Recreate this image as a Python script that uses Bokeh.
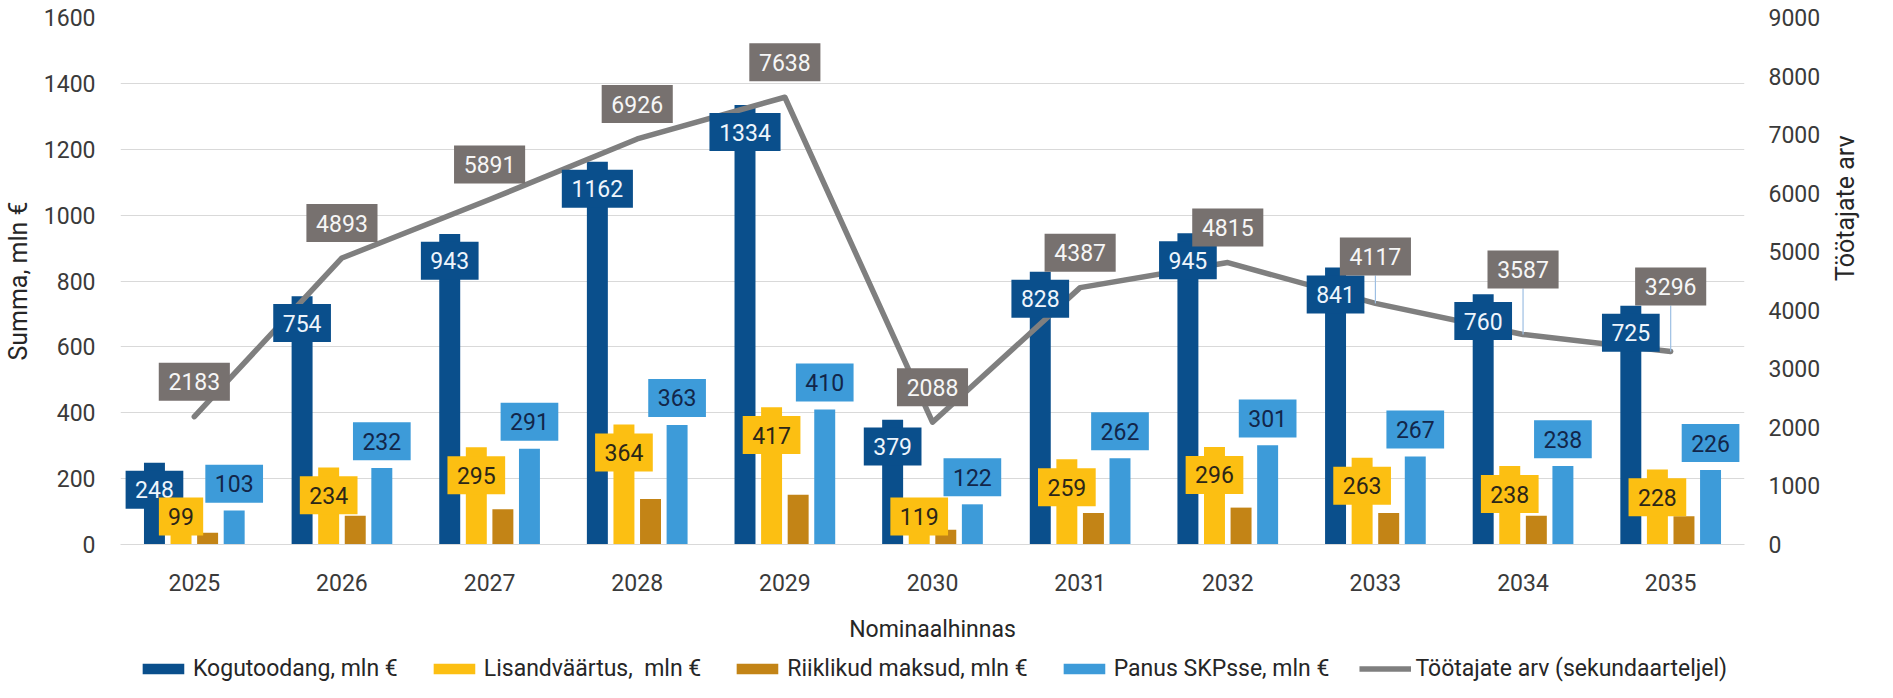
import math
from bokeh.plotting import figure
from bokeh.layouts import column
from bokeh.models import (Range1d, LinearAxis, FixedTicker, ColumnDataSource,
                          Legend, LegendItem, FactorRange)
from bokeh.transform import dodge
from bokeh.core.properties import value
from bokeh.embed import file_html
from bokeh.resources import INLINE

# ---------------- data ----------------
years = ["2025", "2026", "2027", "2028", "2029", "2030",
         "2031", "2032", "2033", "2034", "2035"]
kogutoodang = [248, 754, 943, 1162, 1334, 379, 828, 945, 841, 760, 725]
lisandvaartus = [99, 234, 295, 364, 417, 119, 259, 296, 263, 238, 228]
riiklikud_maksud = [36, 87, 107, 138, 151, 45, 96, 112, 96, 87, 86]
panus_skp = [103, 232, 291, 363, 410, 122, 262, 301, 267, 238, 226]
tootajad = [2183, 4893, 5891, 6926, 7638, 2088, 4387, 4815, 4117, 3587, 3296]
left_ticks = [0, 200, 400, 600, 800, 1000, 1200, 1400, 1600]
right_ticks = [0, 1000, 2000, 3000, 4000, 5000, 6000, 7000, 8000, 9000]
series_names = ["Kogutoodang, mln €", "Lisandväärtus,  mln €",
                "Riiklikud maksud, mln €", "Panus SKPsse, mln €",
                "Töötajate arv (sekundaarteljel)"]

# ---------------- styles ----------------
FONT = "Roboto"
C_DARK = "#0a4f8c"
C_GOLD = "#fcbf12"
C_BROWN = "#c38416"
C_LIGHT = "#3d9bd9"
C_LINE = "#7f7f7f"
C_GRAYBOX = "#77716f"
C_TEXT = "#3a3a3a"
C_GRID = "#d9d9d9"
BAR_COLORS = [C_DARK, C_GOLD, C_BROWN, C_LIGHT]
BAR_COLS = ["kog", "lis", "rii", "pan"]

W = 1877
H_MAIN, H_LEG = 645, 37
ML, MR, MT = 120, 129, 17
FRAME_BOTTOM = 545
MB = H_MAIN - FRAME_BOTTOM
FH = FRAME_BOTTOM - MT
LEFT_MAX = left_ticks[-1]
RIGHT_MAX = right_ticks[-1]
u_left = LEFT_MAX / FH      # data units per pixel, left axis
u_right = RIGHT_MAX / FH    # data units per pixel, right axis

BAR_OFFS = [-0.27, -0.09, 0.09, 0.27]
BAR_W = 0.142
BOX_H = 38
# lift (px) of the line's data labels above their points
gray_lift_px = [35, 35, 35, 35, 35, 35, 35, 35, 47, 65, 65]


def box_w(v):
    return 17.5 + 13.4 * len(str(v))


src = ColumnDataSource(dict(
    year=years,
    kog=kogutoodang, lis=lisandvaartus, rii=riiklikud_maksud, pan=panus_skp,
    toot=tootajad,
    kog_t=[str(v) for v in kogutoodang],
    lis_t=[str(v) for v in lisandvaartus],
    pan_t=[str(v) for v in panus_skp],
    toot_t=[str(v) for v in tootajad],
    kog_w=[box_w(v) for v in kogutoodang],
    lis_w=[box_w(v) for v in lisandvaartus],
    pan_w=[box_w(v) for v in panus_skp],
    toot_w=[box_w(v) for v in tootajad],
    kog_ly=[v - 27 * u_left for v in kogutoodang],
    lis_ly=[max(v - 28 * u_left, 28 * u_left) for v in lisandvaartus],
    pan_ly=[v + 27 * u_left for v in panus_skp],
    toot_ly=[v + l * u_right for v, l in zip(tootajad, gray_lift_px)],
))

p = figure(x_range=FactorRange(factors=years), y_range=Range1d(0, LEFT_MAX),
           width=W, height=H_MAIN, output_backend="svg", toolbar_location=None,
           min_border_left=ML, min_border_right=MR, min_border_top=MT,
           min_border_bottom=MB, background_fill_color="white",
           border_fill_color="white", outline_line_color=None)
p.extra_y_ranges = {"right": Range1d(0, RIGHT_MAX)}

# ---------------- bars ----------------
for off, col, colr in zip(BAR_OFFS, BAR_COLS, BAR_COLORS):
    p.vbar(x=dodge("year", off, range=p.x_range), top=col, width=BAR_W,
           source=src, fill_color=colr, line_color=None)

# ---------------- line ----------------
p.line(x="year", y="toot", source=src, y_range_name="right",
       line_color=C_LINE, line_width=5.5, line_join="round", line_cap="round")

# leader lines for the labels moved further up
lead_idx = [i for i, l in enumerate(gray_lift_px) if l > 40]
lead_src = ColumnDataSource(dict(
    year=[years[i] for i in lead_idx],
    y0=[tootajad[i] for i in lead_idx],
    y1=[tootajad[i] + (gray_lift_px[i] - BOX_H / 2) * u_right for i in lead_idx],
))
p.segment(x0="year", y0="y0", x1="year", y1="y1", source=lead_src,
          y_range_name="right", line_color="#9dbfe3", line_width=1.2)


# ---------------- data labels ----------------
def labels(off, ycol, tcol, wcol, fill, tcolor, yname="default"):
    x = dodge("year", off, range=p.x_range)
    p.rect(x=x, y=ycol, width=wcol, height=BOX_H, width_units="screen",
           height_units="screen", source=src, fill_color=fill,
           line_color=None, y_range_name=yname)
    p.text(x=x, y=ycol, text=tcol, source=src, text_align="center",
           text_baseline="middle", text_font=value(FONT),
           text_font_size="23px", text_color=tcolor, y_range_name=yname)


labels(BAR_OFFS[0], "kog_ly", "kog_t", "kog_w", C_DARK, "#eef5fc")
labels(BAR_OFFS[1], "lis_ly", "lis_t", "lis_w", C_GOLD, "#2b2618")
labels(BAR_OFFS[3], "pan_ly", "pan_t", "pan_w", C_LIGHT, "#12264a")
labels(0, "toot_ly", "toot_t", "toot_w", C_GRAYBOX, "#f6f6f6", "right")

# ---------------- axes ----------------
yl = p.left[0]
yl.ticker = FixedTicker(ticks=left_ticks)
yl.axis_label = "Summa, mln €"

yr = LinearAxis(y_range_name="right", ticker=FixedTicker(ticks=right_ticks),
                axis_label="Töötajate arv")
p.add_layout(yr, "right")

for ax in (yl, yr):
    ax.axis_line_color = None
    ax.major_tick_line_color = None
    ax.minor_tick_line_color = None
    ax.major_tick_out = 0
    ax.major_tick_in = 0
    ax.major_label_text_font = FONT
    ax.major_label_text_font_size = "23px"
    ax.major_label_text_color = C_TEXT
    ax.axis_label_text_font = FONT
    ax.axis_label_text_font_size = "25px"
    ax.axis_label_text_font_style = "normal"
    ax.axis_label_text_color = "#262626"
yl.major_label_standoff = 25
yl.axis_label_standoff = 8
yr.major_label_standoff = 24
yr.axis_label_standoff = 22
if "axis_label_orientation" in yr.properties():
    yr.axis_label_orientation = math.pi / 2

xa = p.below[0]
xa.axis_line_color = C_GRID
xa.axis_line_width = 1.2
xa.major_tick_line_color = None
xa.major_tick_out = 0
xa.major_tick_in = 0
xa.major_label_standoff = 29
xa.major_label_text_font = FONT
xa.major_label_text_font_size = "23px"
xa.major_label_text_color = C_TEXT
xa.axis_label = "Nominaalhinnas"
xa.axis_label_standoff = 22
xa.axis_label_text_font = FONT
xa.axis_label_text_font_size = "23px"
xa.axis_label_text_font_style = "normal"
xa.axis_label_text_color = "#262626"

p.xgrid.grid_line_color = None
p.ygrid.grid_line_color = C_GRID
p.ygrid.grid_line_width = 1.2

# ---------------- legend (strip below the chart) ----------------
# the series are drawn again with zero size / far outside the visible
# y-range, so that only their legend keys show
pl = figure(width=W, height=H_LEG, output_backend="svg", toolbar_location=None,
            x_range=FactorRange(factors=years), y_range=Range1d(-20000, -19000),
            x_axis_location=None, y_axis_location=None,
            min_border_left=ML, min_border_right=MR,
            min_border_top=0, min_border_bottom=0, outline_line_color=None,
            background_fill_color="white", border_fill_color="white")
pl.grid.visible = False
leg_r = [pl.vbar(x="year", top=col, bottom=col, width=0, source=src,
                 fill_color=colr, line_color=None)
         for col, colr in zip(BAR_COLS, BAR_COLORS)]
leg_r.append(pl.line(x="year", y="toot", source=src, line_color=C_LINE,
                     line_width=5.5))

legend = Legend(items=[LegendItem(label=n, renderers=[r])
                       for n, r in zip(series_names, leg_r)],
                orientation="horizontal", location="bottom_center",
                spacing=30, glyph_width=52, glyph_height=13,
                label_standoff=4, padding=0, margin=0,
                border_line_color=None, background_fill_alpha=0,
                label_text_font=FONT, label_text_font_size="23px",
                label_text_color="#262626")
pl.add_layout(legend, "center")

page = column(p, pl, spacing=0)
open("out.html", "w").write(file_html(page, INLINE))
